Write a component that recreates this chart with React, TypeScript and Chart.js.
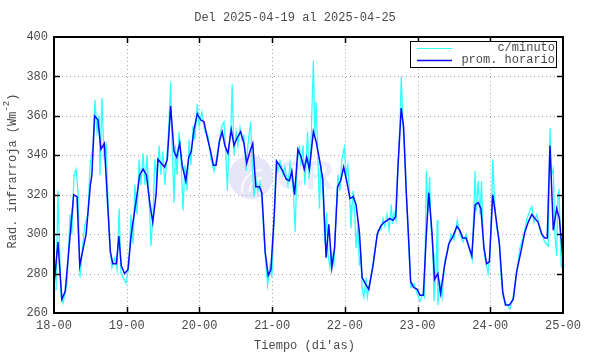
import React, { useEffect, useRef } from "react";
import { Chart, registerables } from "chart.js";
Chart.register(...registerables);

const TITLE = "Del 2025-04-19 al 2025-04-25";
const X_TITLE = "Tiempo (di'as)";
const Y_TITLE_MAIN = "Rad. infrarroja (Wm";
const Y_TITLE_SUP = "-2";
const Y_TITLE_END = ")";
const DAY_LABELS = ["18-00", "19-00", "20-00", "21-00", "22-00", "23-00", "24-00", "25-00"];
const Y_MIN = 260;
const Y_MAX = 400;
const Y_STEP = 20;
const LEGEND_LABELS = ["c/minuto", "prom. horario"];

// hours since 18-00, hourly mean values
const HOURLY_T = [
  0.0, 1.3, 2.6, 3.7, 6.5, 7.6, 8.5, 9.8, 10.6, 12.0, 12.5, 13.4, 14.5, 15.5, 16.6, 17.5, 18.6, 19.4, 20.6, 21.4,
  22.2, 23.3, 24.4, 25.5, 27.4, 28.3, 29.4, 30.5, 31.6, 32.6, 33.7, 34.3, 35.4, 36.5, 37.4, 38.5, 39.6, 40.5, 41.5, 42.3,
  43.5, 44.5, 45.3, 46.2, 47.3, 48.4, 49.5, 50.6, 51.7, 52.6, 53.5, 54.6, 55.5, 56.4, 57.4, 58.5, 59.4, 60.5, 61.6, 62.7,
  63.6, 64.7, 65.6, 66.6, 67.8, 68.6, 69.7, 70.7, 71.6, 72.7, 73.5, 74.4, 75.5, 76.6, 77.7, 78.5, 79.4, 80.5, 81.6, 82.6,
  83.4, 84.3, 85.6, 86.5, 87.6, 88.7, 89.8, 90.7, 91.7, 92.6, 93.6, 94.6, 95.6, 96.6, 97.7, 98.8, 99.7, 100.8, 101.7, 102.7,
  103.9, 105.3, 106.7, 107.8, 108.9, 110.0, 110.8, 111.9, 112.8, 113.5, 114.6, 115.4, 116.3, 117.1, 117.7, 118.7, 119.9, 120.8, 121.9, 122.9,
  123.7, 124.8, 125.6, 126.7, 127.6, 128.9, 130.3, 131.7, 133.0, 133.9, 134.9, 136.0, 137.9, 139.0, 140.0, 140.9, 141.9, 142.8, 143.7, 144.8,
  145.9, 147.0, 148.1, 149.0, 150.3, 151.6, 152.7, 154.1, 155.4, 156.5, 157.7, 158.7, 159.8, 161.0, 162.0, 162.8, 163.7, 164.8, 165.9, 166.8,
  167.9,
];
const HOURLY_RAD = [
  274, 296, 267, 271, 320, 319, 284, 294, 300, 325, 330, 360, 358, 343, 346, 321, 291, 285, 285, 299,
  284, 280, 282, 300, 320, 330, 333, 330, 316, 306, 320, 338, 336, 334, 338, 365, 342, 339, 346, 335,
  327, 339, 342, 353, 361, 358, 357, 349, 342, 335, 335, 347, 352, 345, 341, 353, 345, 349, 352, 346,
  336, 342, 346, 324, 324, 321, 291, 279, 282, 310, 337, 335, 332, 328, 327, 332, 320, 343, 339, 333,
  339, 333, 352, 347, 338, 328, 288, 305, 283, 293, 324, 327, 334, 327, 318, 319, 315, 301, 278, 275,
  272, 284, 300, 304, 306, 307, 308, 307, 309, 333, 364, 354, 320, 296, 276, 273, 272, 269, 269, 300,
  321, 300, 277, 280, 270, 284, 295, 299, 304, 302, 298, 298, 289, 315, 316, 313, 293, 285, 286, 320,
  308, 295, 271, 264, 264, 267, 281, 291, 301, 306, 310, 308, 306, 300, 298, 298, 345, 302, 313, 308,
  289,
];

// per-minute record (sampled vertices)
const MINUTE_T = [
  0.0, 0.7, 1.3, 2.3, 3.0, 4.3, 5.3, 5.9, 6.6, 7.3, 7.9, 8.6, 9.2, 10.2, 11.2, 11.9, 12.9, 13.5, 14.2, 14.9,
  15.2, 15.8, 16.5, 17.2, 18.2, 19.1, 20.1, 20.8, 21.5, 22.1, 23.1, 23.8, 24.8, 25.4, 26.1, 26.7, 27.4, 28.1, 28.7, 29.4,
  30.0, 30.7, 31.4, 32.0, 32.7, 33.3, 34.0, 34.7, 35.3, 35.9, 36.6, 37.3, 37.9, 38.5, 38.9, 39.6, 40.1, 40.6, 41.3, 41.9,
  42.6, 43.2, 43.9, 44.6, 45.2, 45.9, 46.5, 47.3, 47.9, 48.8, 49.8, 50.8, 51.8, 52.8, 53.8, 54.8, 55.4, 56.1, 56.8, 57.2,
  57.8, 58.4, 58.8, 59.4, 60.1, 60.7, 61.4, 62.0, 62.7, 63.4, 64.0, 64.9, 65.3, 66.0, 66.7, 67.3, 68.0, 68.6, 69.3, 69.9,
  70.5, 71.3, 71.9, 72.6, 73.3, 73.9, 74.6, 75.6, 76.2, 77.2, 77.9, 78.5, 79.0, 79.6, 80.2, 81.0, 81.5, 82.2, 82.8, 83.7,
  84.2, 84.8, 85.6, 86.1, 86.5, 87.1, 87.6, 88.1, 88.8, 89.4, 90.0, 90.4, 91.1, 91.7, 92.4, 93.1, 93.7, 94.4, 95.0, 95.8,
  96.4, 97.0, 97.7, 98.0, 98.7, 99.3, 99.7, 100.3, 100.8, 101.3, 101.7, 102.3, 103.0, 103.4, 104.0, 105.0, 105.9, 106.9, 107.9, 108.6,
  109.2, 109.9, 110.6, 111.3, 111.7, 112.2, 112.9, 113.5, 114.2, 114.6, 115.2, 115.8, 116.5, 117.2, 117.8, 118.8, 119.8, 120.8, 121.8, 122.3,
  122.9, 123.4, 124.0, 124.4, 125.1, 125.4, 126.1, 126.5, 126.7, 127.4, 128.1, 129.0, 130.0, 131.0, 132.0, 133.1, 134.0, 135.0, 136.0, 137.0,
  138.0, 139.0, 139.4, 140.0, 140.6, 141.1, 141.6, 142.2, 143.3, 143.9, 144.4, 144.8, 145.4, 146.1, 146.9, 147.5, 148.2, 149.2, 150.5, 151.5,
  152.5, 153.8, 155.1, 156.1, 157.1, 157.7, 158.4, 159.4, 160.4, 161.4, 162.0, 163.1, 163.7, 164.2, 164.8, 165.3, 165.9, 166.3, 166.7, 167.1,
  167.4, 168.0,
];
const MINUTE_RAD = [
  272, 272, 322, 268, 265, 275, 310, 300, 330, 333, 322, 278, 290, 305, 310, 335, 345, 368, 352, 360,
  330, 369, 340, 345, 300, 283, 288, 282, 313, 280, 277, 275, 285, 310, 295, 325, 310, 338, 325, 341,
  325, 340, 318, 294, 310, 338, 328, 345, 330, 342, 325, 340, 355, 377, 350, 316, 345, 330, 352, 338,
  312, 335, 322, 348, 335, 355, 348, 366, 355, 362, 352, 350, 338, 332, 340, 350, 355, 357, 338, 322,
  345, 355, 376, 340, 352, 345, 354, 348, 350, 332, 345, 357, 340, 319, 328, 322, 326, 318, 300, 285,
  274, 284, 278, 305, 338, 332, 337, 330, 334, 325, 336, 328, 322, 301, 335, 345, 335, 345, 325, 352,
  328, 345, 388, 350, 367, 340, 313, 335, 320, 295, 311, 290, 283, 290, 285, 310, 330, 322, 338, 344,
  330, 335, 315, 303, 322, 310, 293, 305, 284, 290, 272, 268, 278, 268, 274, 282, 292, 302, 302, 308,
  304, 310, 302, 315, 305, 311, 307, 335, 355, 380, 355, 340, 315, 290, 273, 275, 270, 266, 270, 268,
  332, 312, 329, 305, 290, 266, 282, 307, 264, 275, 268, 287, 292, 300, 297, 307, 300, 296, 300, 293,
  287, 332, 312, 327, 310, 327, 300, 288, 280, 290, 310, 338, 318, 303, 298, 280, 268, 265, 262, 268,
  278, 293, 300, 308, 312, 314, 306, 310, 302, 298, 296, 294, 354, 330, 333, 300, 289, 318, 323, 300,
  283, 301,
];

const FONT = '"Liberation Mono", "DejaVu Sans Mono", monospace';
const TEXT_COLOR = "#4a4a4a";
const CYAN = "#33ffff";
const BLUE = "#0a0aff";

const decor = {
  id: "decor",
  beforeDatasetsDraw(chart: any) {
    const { ctx, chartArea: a, scales } = chart;
    const xs = scales.x;
    const ys = scales.y;
    ctx.save();
    // watermark
    ctx.fillStyle = "rgba(205,205,242,0.5)";
    ctx.beginPath();
    ctx.arc(251, 177, 22, 0, Math.PI * 2);
    ctx.fill();
    ctx.strokeStyle = "rgba(255,255,255,0.9)";
    ctx.lineWidth = 2;
    ctx.beginPath();
    ctx.arc(262, 190, 20, Math.PI * 0.95, Math.PI * 1.5);
    ctx.stroke();
    ctx.beginPath();
    ctx.arc(262, 190, 12, Math.PI * 0.95, Math.PI * 1.5);
    ctx.stroke();
    ctx.fillStyle = "rgba(205,205,242,0.4)";
    ctx.font = 'bold 40px "Liberation Sans", sans-serif';
    ctx.textAlign = "left";
    ctx.textBaseline = "middle";
    ctx.fillText("CR", 276, 178);
    // dotted grid
    ctx.strokeStyle = "#a8a8a8";
    ctx.lineWidth = 1;
    ctx.setLineDash([1, 3]);
    for (let i = 1; i < DAY_LABELS.length - 1; i++) {
      const px = Math.round(xs.getPixelForValue(i * 24)) + 0.5;
      ctx.beginPath();
      ctx.moveTo(px, a.top);
      ctx.lineTo(px, a.bottom);
      ctx.stroke();
    }
    for (let v = Y_MIN + Y_STEP; v < Y_MAX; v += Y_STEP) {
      const py = Math.round(ys.getPixelForValue(v)) + 0.5;
      ctx.beginPath();
      ctx.moveTo(a.left, py);
      ctx.lineTo(a.right, py);
      ctx.stroke();
    }
    ctx.restore();
  },
  afterDraw(chart: any) {
    const { ctx, chartArea: a, scales } = chart;
    const xs = scales.x;
    const ys = scales.y;
    ctx.save();
    ctx.fillStyle = TEXT_COLOR;
    ctx.font = `12px ${FONT}`;
    ctx.textAlign = "center";
    ctx.textBaseline = "middle";
    ctx.fillText(TITLE, 295, 18);
    ctx.fillText(X_TITLE, (a.left + a.right) / 2 - 4, 346);

    // y title with superscript
    ctx.save();
    ctx.translate(13, (a.top + a.bottom) / 2 - 4);
    ctx.rotate(-Math.PI / 2);
    ctx.font = `12px ${FONT}`;
    const w1 = ctx.measureText(Y_TITLE_MAIN).width;
    const w3 = ctx.measureText(Y_TITLE_END).width;
    ctx.font = `9px ${FONT}`;
    const w2 = ctx.measureText(Y_TITLE_SUP).width;
    const x0 = -(w1 + w2 + w3) / 2;
    ctx.textAlign = "left";
    ctx.font = `12px ${FONT}`;
    ctx.fillText(Y_TITLE_MAIN, x0, 0);
    ctx.font = `9px ${FONT}`;
    ctx.fillText(Y_TITLE_SUP, x0 + w1, -6);
    ctx.font = `12px ${FONT}`;
    ctx.fillText(Y_TITLE_END, x0 + w1 + w2, 0);
    ctx.restore();

    // frame
    ctx.strokeStyle = "#000";
    ctx.lineWidth = 2;
    ctx.setLineDash([]);
    ctx.strokeRect(a.left, a.top, a.right - a.left, a.bottom - a.top);
    // inward ticks
    ctx.lineWidth = 1.5;
    const tl = 6;
    for (let i = 1; i < DAY_LABELS.length - 1; i++) {
      const px = Math.round(xs.getPixelForValue(i * 24)) + 0.5;
      ctx.beginPath();
      ctx.moveTo(px, a.bottom);
      ctx.lineTo(px, a.bottom - tl);
      ctx.moveTo(px, a.top);
      ctx.lineTo(px, a.top + tl);
      ctx.stroke();
    }
    for (let v = Y_MIN + Y_STEP; v < Y_MAX; v += Y_STEP) {
      const py = Math.round(ys.getPixelForValue(v)) + 0.5;
      ctx.beginPath();
      ctx.moveTo(a.left, py);
      ctx.lineTo(a.left + tl, py);
      ctx.moveTo(a.right, py);
      ctx.lineTo(a.right - tl, py);
      ctx.stroke();
    }

    // legend
    const bx = 410, by = 41, bw = 146, bh = 26;
    ctx.fillStyle = "#fff";
    ctx.fillRect(bx, by, bw, bh);
    ctx.strokeStyle = "#000";
    ctx.lineWidth = 1;
    ctx.strokeRect(bx + 0.5, by + 0.5, bw, bh);
    const colors = [CYAN, BLUE];
    const rows = [48, 60];
    for (let i = 0; i < LEGEND_LABELS.length; i++) {
      ctx.strokeStyle = colors[i];
      ctx.lineWidth = i === 0 ? 1 : 1.5;
      ctx.beginPath();
      ctx.moveTo(417, rows[i] + 0.5);
      ctx.lineTo(452, rows[i] + 0.5);
      ctx.stroke();
      ctx.fillStyle = TEXT_COLOR;
      ctx.font = `12px ${FONT}`;
      ctx.textAlign = "right";
      ctx.textBaseline = "middle";
      ctx.fillText(LEGEND_LABELS[i], 555, rows[i]);
    }
    ctx.restore();
  },
};

export default function App() {
  const ref = useRef<HTMLCanvasElement | null>(null);
  useEffect(() => {
    document.body.style.margin = "0";
    const canvas = ref.current;
    if (!canvas) return;
    const hourly = HOURLY_T.map((t, i) => ({ x: t, y: HOURLY_RAD[i] }));
    const minute = MINUTE_T.map((t, i) => ({ x: t, y: MINUTE_RAD[i] }));
    const chart = new Chart(canvas, {
      type: "line",
      data: {
        datasets: [
          {
            label: LEGEND_LABELS[1],
            data: hourly,
            borderColor: BLUE,
            borderWidth: 1.5,
            pointRadius: 0,
            tension: 0,
            fill: false,
            order: 0,
          },
          {
            label: LEGEND_LABELS[0],
            data: minute,
            borderColor: CYAN,
            borderWidth: 1.3,
            pointRadius: 0,
            tension: 0,
            fill: false,
            order: 1,
          },
        ],
      },
      options: {
        responsive: false,
        animation: false,
        devicePixelRatio: 1,
        layout: { padding: { top: 37, right: 27, left: 0, bottom: 0 } },
        plugins: {
          legend: { display: false },
          title: { display: false },
          tooltip: { enabled: false },
        },
        scales: {
          x: {
            type: "linear",
            min: 0,
            max: 168,
            grid: { display: false, drawTicks: false },
            border: { display: false },
            ticks: {
              stepSize: 24,
              autoSkip: false,
              maxRotation: 0,
              padding: 6,
              color: TEXT_COLOR,
              font: { family: FONT, size: 12 },
              callback: (v: any) => DAY_LABELS[Math.round(Number(v) / 24)] ?? "",
            },
            afterFit: (s: any) => {
              s.height = 41;
            },
          },
          y: {
            type: "linear",
            min: Y_MIN,
            max: Y_MAX,
            grid: { display: false, drawTicks: false },
            border: { display: false },
            ticks: {
              stepSize: Y_STEP,
              padding: 6,
              color: TEXT_COLOR,
              font: { family: FONT, size: 12 },
            },
            afterFit: (s: any) => {
              s.width = 54;
            },
          },
        },
      },
      plugins: [decor],
    });
    return () => chart.destroy();
  }, []);
  return (
    <div style={{ width: 590, height: 354 }}>
      <canvas ref={ref} width={590} height={354} style={{ display: "block" }} />
    </div>
  );
}
